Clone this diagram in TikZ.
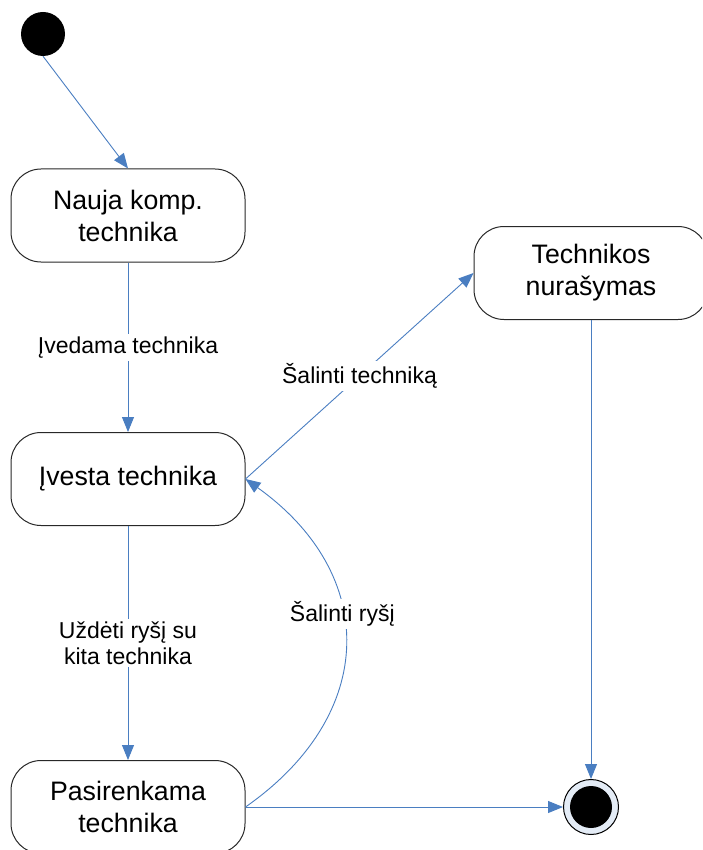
\documentclass[tikz,border=0pt]{standalone}
\usepackage{fontspec}
\setmainfont{Liberation Sans}
\usetikzlibrary{arrows.meta}
\definecolor{flow}{RGB}{74,126,193}
\definecolor{framegray}{RGB}{40,40,40}
\definecolor{ringfill}{RGB}{228,236,246}
\begin{document}
\begin{tikzpicture}[x=1pt,y=-1pt,
  state/.style={draw=framegray,line width=1pt,rounded corners=30pt,fill=white,
    minimum width=234pt,minimum height=93pt,align=center,inner sep=0pt,
    font=\fontsize{26.7}{32}\selectfont},
  trans/.style={draw=flow,line width=0.9pt,-{Triangle[length=15pt,width=12pt]}},
  lbl/.style={fill=white,inner sep=3pt,align=center,
    font=\fontsize{23}{26}\selectfont},
  startdot/.style={circle,fill=black,minimum size=44pt,inner sep=0pt},
  enddot/.style={circle,draw=black,line width=1pt,fill=ringfill,minimum size=55pt,inner sep=0pt}
]
\useasboundingbox (0,0) rectangle (702,850);
\clip (0,0) rectangle (702,850);

% states
\node[startdot] (start) at (43,34) {};
\node[state] (nauja) at (128,215.5) {Nauja komp.\\technika};
\node[state] (ivesta) at (128,479) {Įvesta technika};
\node[state] (pasir) at (128,807) {Pasirenkama\\technika};
\node[state] (nuras) at (591,273) {Technikos\\nurašymas};
\node[enddot] (final) at (591,807) {};
\fill[black] (final.center) circle (21pt);

% transitions
\draw[trans] (start.south) -- (nauja.north);
\draw[trans] (nauja.south) -- node[lbl] {Įvedama technika} (ivesta.north);
\draw[trans] (ivesta.south) -- node[lbl] {Uždėti ryšį su\\kita technika} (pasir.north);
\draw[trans] (ivesta.east) -- node[lbl] {Šalinti techniką} (nuras.west);
\draw[trans] (pasir.east) .. controls +(133,-93) and +(133,95) .. node[lbl,pos=0.585] {Šalinti ryšį} (ivesta.east);
\draw[trans] (pasir.east) -- (final.west);
\draw[trans] (nuras.south) -- (final.north);
\end{tikzpicture}
\end{document}
